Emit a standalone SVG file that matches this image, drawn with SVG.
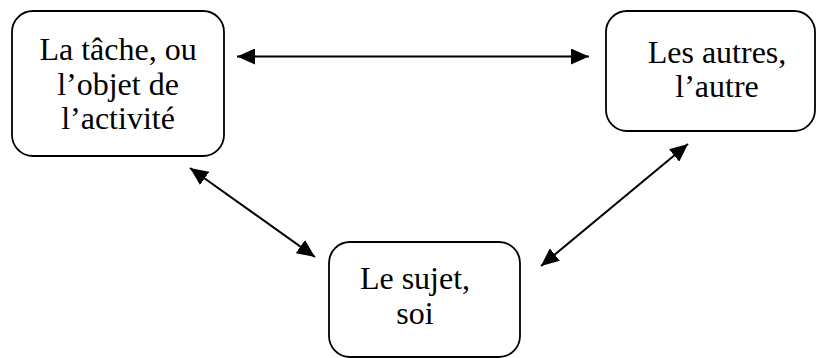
<svg xmlns="http://www.w3.org/2000/svg" width="816" height="358" viewBox="0 0 816 358">
  <style>
    .box { fill: #ffffff; stroke: #000000; stroke-width: 1.8; }
    .lbl { font-family: "Liberation Serif", "Times New Roman", serif; font-size: 32px; fill: #000000; text-anchor: middle; }
    .conn { stroke: #000000; stroke-width: 2; fill: none; marker-start: url(#ah); marker-end: url(#ah); }
  </style>
  <defs>
    <marker id="ah" markerUnits="userSpaceOnUse" markerWidth="19" markerHeight="16" refX="18" refY="8" orient="auto-start-reverse" viewBox="0 0 19 16">
      <path d="M0,0 L18,8 L0,16 Z" fill="#000000"/>
    </marker>
  </defs>
  <rect width="816" height="358" fill="#ffffff"/>
  <g id="node-tache">
    <rect class="box" x="12" y="11" width="212" height="145" rx="21" ry="21"/>
    <text class="lbl" x="118" y="60">La tâche, ou</text>
    <text class="lbl" x="118" y="95">l’objet de</text>
    <text class="lbl" x="118" y="129">l’activité</text>
  </g>
  <g id="node-autres">
    <rect class="box" x="606" y="11" width="209" height="120" rx="21" ry="21"/>
    <text class="lbl" x="717" y="63">Les autres,</text>
    <text class="lbl" x="717" y="97">l’autre</text>
  </g>
  <g id="node-sujet">
    <rect class="box" x="329" y="242" width="191" height="115" rx="21" ry="21"/>
    <text class="lbl" x="415" y="289">Le sujet,</text>
    <text class="lbl" x="415" y="324">soi</text>
  </g>
  <g id="connectors">
    <line class="conn" x1="237" y1="56.5" x2="589" y2="56.5"/>
    <line class="conn" x1="190" y1="168" x2="315" y2="257"/>
    <line class="conn" x1="688" y1="144" x2="541" y2="266"/>
  </g>
</svg>
